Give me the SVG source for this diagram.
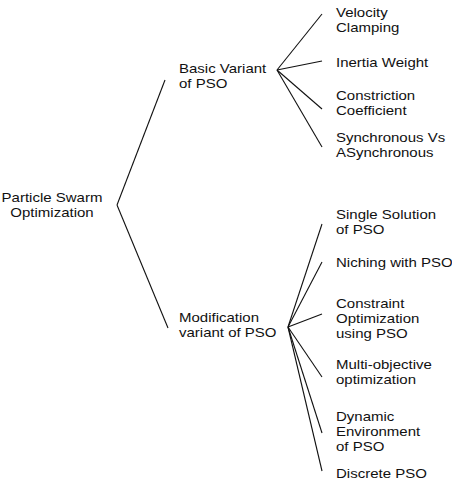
<svg xmlns="http://www.w3.org/2000/svg" width="452" height="482" viewBox="0 0 452 482">
<style>
text{font-family:"Liberation Sans",Arial,sans-serif;font-size:13.4px;fill:#111}
.c line{stroke:#111;stroke-width:1.1}
</style>
<rect width="452" height="482" fill="#fff"/>
<g class="c" id="connectors">
<line x1="117" y1="205" x2="165" y2="80"/>
<line x1="117" y1="205" x2="168" y2="328"/>
<line x1="277" y1="70" x2="322" y2="14"/>
<line x1="277" y1="70" x2="322" y2="61"/>
<line x1="277" y1="70" x2="322" y2="109"/>
<line x1="277" y1="70" x2="322" y2="147"/>
<line x1="288" y1="327" x2="322" y2="224"/>
<line x1="288" y1="327" x2="322" y2="262"/>
<line x1="288" y1="327" x2="322" y2="314"/>
<line x1="288" y1="327" x2="322" y2="377"/>
<line x1="288" y1="327" x2="322" y2="433"/>
<line x1="288" y1="327" x2="322" y2="471"/>
</g>
<g id="root" transform="translate(52 0) scale(1.12 1)"><text x="0" y="202" text-anchor="middle">Particle Swarm</text><text x="0" y="217" text-anchor="middle">Optimization</text></g>
<g id="basic" transform="translate(179 0) scale(1.12 1)"><text x="0" y="73">Basic Variant</text><text x="0" y="88">of PSO</text></g>
<g id="modification" transform="translate(179 0) scale(1.12 1)"><text x="0" y="322">Modification</text><text x="0" y="337">variant of PSO</text></g>
<g id="velocity" transform="translate(336 0) scale(1.12 1)"><text x="0" y="17">Velocity</text><text x="0" y="32">Clamping</text></g>
<g id="inertia" transform="translate(336 0) scale(1.12 1)"><text x="0" y="67">Inertia Weight</text></g>
<g id="constriction" transform="translate(336 0) scale(1.12 1)"><text x="0" y="100">Constriction</text><text x="0" y="115">Coefficient</text></g>
<g id="sync" transform="translate(336 0) scale(1.12 1)"><text x="0" y="142">Synchronous Vs</text><text x="0" y="157">ASynchronous</text></g>
<g id="single" transform="translate(336 0) scale(1.12 1)"><text x="0" y="219">Single Solution</text><text x="0" y="234">of PSO</text></g>
<g id="niching" transform="translate(336 0) scale(1.12 1)"><text x="0" y="267">Niching with PSO</text></g>
<g id="constraint" transform="translate(336 0) scale(1.12 1)"><text x="0" y="308">Constraint</text><text x="0" y="323">Optimization</text><text x="0" y="338">using PSO</text></g>
<g id="multi" transform="translate(336 0) scale(1.12 1)"><text x="0" y="369">Multi-objective</text><text x="0" y="384">optimization</text></g>
<g id="dynamic" transform="translate(336 0) scale(1.12 1)"><text x="0" y="421">Dynamic</text><text x="0" y="436">Environment</text><text x="0" y="451">of PSO</text></g>
<g id="discrete" transform="translate(336 0) scale(1.12 1)"><text x="0" y="478">Discrete PSO</text></g>
</svg>
